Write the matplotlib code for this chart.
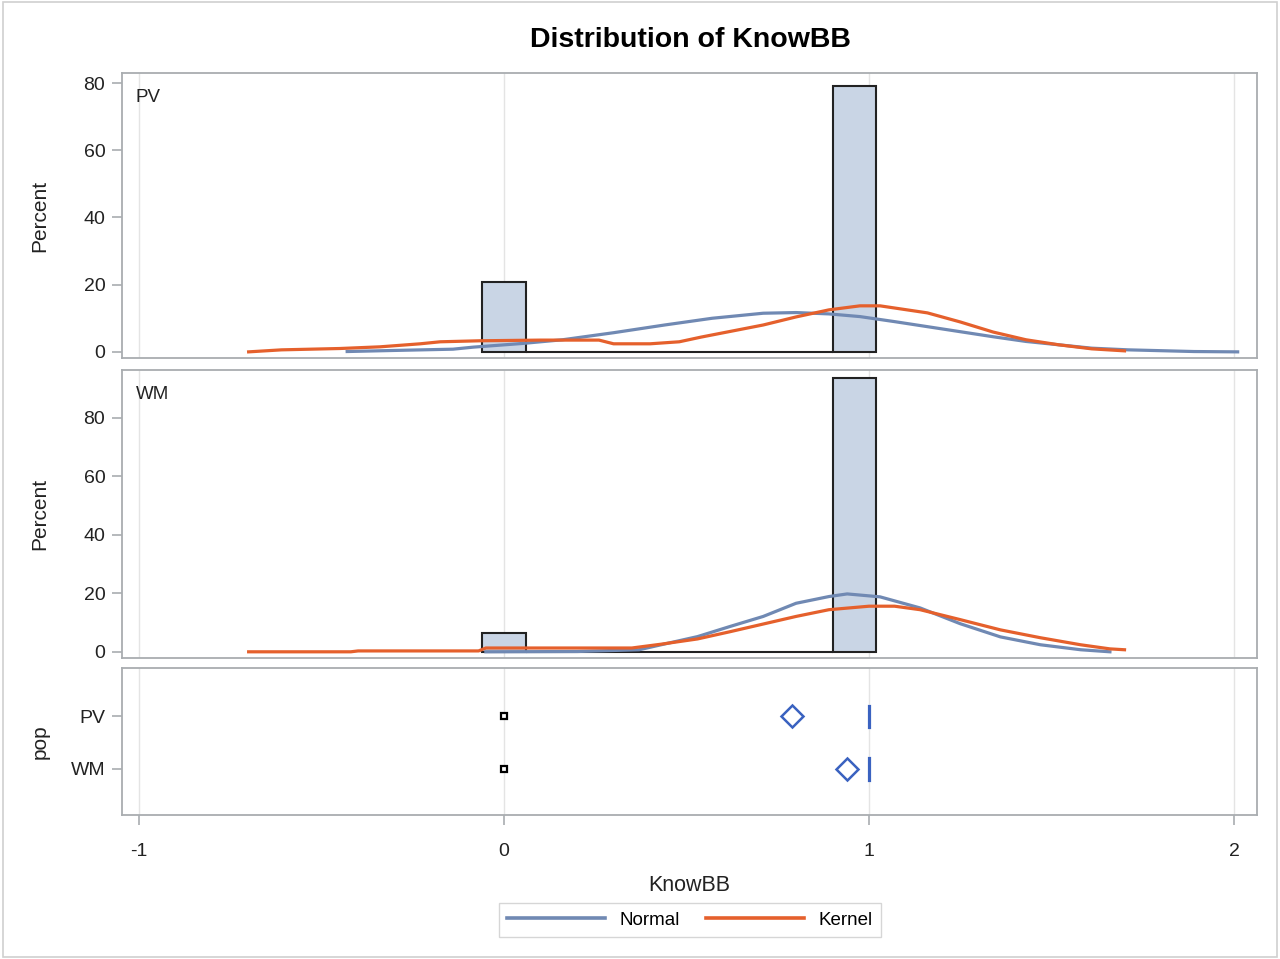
import numpy as np
import matplotlib
matplotlib.use("Agg")
import matplotlib.pyplot as plt
from matplotlib.patches import Rectangle

plt.rcParams['font.family'] = ['Liberation Sans', 'DejaVu Sans']
plt.rcParams['axes.unicode_minus'] = False

# histogram bins (midpoints) and percents per group
bin_mid = [0.0, 0.12, 0.24, 0.36, 0.48, 0.60, 0.72, 0.84, 0.96]
pv_pct = [20.9, 0, 0, 0, 0, 0, 0, 0, 79.1]
wm_pct = [6.3, 0, 0, 0, 0, 0, 0, 0, 93.7]

# fitted normal curves
pv_norm_x = [-0.43, -0.31, -0.14, -0.085, 0.05, 0.16, 0.30, 0.44, 0.57, 0.71, 0.80,
             0.89, 0.975, 1.07, 1.16, 1.25, 1.34, 1.43, 1.52, 1.61, 1.71, 1.89, 2.01]
pv_norm_y = [0.1, 0.4, 0.8, 1.4, 2.5, 3.6, 5.7, 8.0, 10.0, 11.5, 11.7,
             11.3, 10.5, 9.0, 7.5, 6.0, 4.5, 3.1, 2.1, 1.1, 0.6, 0.1, 0.0]
wm_norm_x = [-0.05, 0.20, 0.37, 0.43, 0.53, 0.62, 0.71, 0.80, 0.89, 0.94, 1.03,
             1.14, 1.25, 1.36, 1.47, 1.58, 1.66]
wm_norm_y = [0.0, 0.1, 0.7, 2.4, 5.2, 8.7, 12.1, 16.6, 18.9, 19.8, 18.8,
             15.0, 9.6, 5.1, 2.4, 0.7, 0.0]

# kernel density curves
pv_kern_x = [-0.70, -0.61, -0.45, -0.34, -0.23, -0.175, -0.066, 0.10, 0.26, 0.30, 0.40,
             0.48, 0.54, 0.71, 0.80, 0.89, 0.975, 1.03, 1.16, 1.25, 1.34, 1.43, 1.52,
             1.61, 1.70]
pv_kern_y = [0.0, 0.6, 1.0, 1.5, 2.4, 3.0, 3.3, 3.5, 3.5, 2.4, 2.4,
             3.0, 4.4, 8.0, 10.4, 12.5, 13.7, 13.7, 11.6, 8.9, 5.9, 3.6, 2.1,
             0.9, 0.3]
wm_kern_x = [-0.70, -0.42, -0.40, -0.07, -0.05, 0.35, 0.43, 0.53, 0.62, 0.71, 0.80,
             0.89, 1.0, 1.07, 1.14, 1.25, 1.36, 1.47, 1.58, 1.66, 1.70]
wm_kern_y = [0.0, 0.0, 0.3, 0.3, 1.3, 1.3, 2.6, 4.4, 6.9, 9.5, 12.1,
             14.4, 15.6, 15.6, 14.4, 11.0, 7.5, 4.8, 2.4, 1.0, 0.7]

# box plot summary by population
pops = ['PV', 'WM']
pop_mean = [0.79, 0.94]
pop_q1 = [1, 1]
pop_q3 = [1, 1]
pop_outlier = [0, 0]

bar_fill = '#C9D5E5'
blue_fit = '#7089B3'
orange_fit = '#E5602C'
frame = '#A9ADB0'
grid_c = '#E4E4E4'
text_c = '#222222'

W, H = 1280, 959
fig = plt.figure(figsize=(12.8, 9.59), dpi=100)
fig.patches.append(Rectangle((0.002, 0.002), 0.996, 0.996, transform=fig.transFigure,
                             fill=False, edgecolor='#D0D0D0', lw=1.2))


def panel(top, bottom):
    left, right = 122, 1257
    return fig.add_axes([left / W, 1 - bottom / H, (right - left) / W, (bottom - top) / H])


def style(ax):
    for s in ax.spines.values():
        s.set_color(frame)
        s.set_linewidth(1.3)
    ax.set_xlim(-1.047, 2.063)
    ax.set_xticks([-1, 0, 1, 2])
    ax.grid(axis='x', color=grid_c, lw=1.0)
    ax.set_axisbelow(True)
    ax.tick_params(colors=frame, labelcolor=text_c, labelsize=14, length=7, width=1.2)
    ax.tick_params(axis='y', pad=5)
    ax.yaxis.set_label_coords(-0.064, 0.5)


ax1 = panel(73, 358)
ax2 = panel(370, 658)
ax3 = panel(668, 815)

for ax, pct, nx, ny, kx, ky, ymax, tag in [
        (ax1, pv_pct, pv_norm_x, pv_norm_y, pv_kern_x, pv_kern_y, 83.0, 'PV'),
        (ax2, wm_pct, wm_norm_x, wm_norm_y, wm_kern_x, wm_kern_y, 96.4, 'WM')]:
    style(ax)
    ax.bar(bin_mid, pct, width=0.12, color=bar_fill, edgecolor='#222222', linewidth=1.5, zorder=2)
    ax.plot(nx, ny, color=blue_fit, lw=2.3, zorder=3)
    ax.plot(kx, ky, color=orange_fit, lw=2.3, zorder=4)
    ax.set_ylim(-ymax * 0.022, ymax)
    ax.set_yticks([0, 20, 40, 60, 80])
    ax.tick_params(axis='x', bottom=False, labelbottom=False)
    ax.set_ylabel('Percent', fontsize=15, color=text_c)
    ax.text(0.012, 0.945, tag, transform=ax.transAxes, ha='left', va='top', fontsize=13.5, color=text_c)

# box plot panel
style(ax3)
ypos = np.arange(len(pops))
for i in ypos:
    ax3.plot([pop_q1[i], pop_q3[i]], [i - 0.2, i + 0.2], color='#3A62C0', lw=2.3, zorder=3)
ax3.plot(pop_mean, ypos, linestyle='none', marker='D', markersize=11, markerfacecolor='white',
         markeredgecolor='#3A62C0', markeredgewidth=1.8, zorder=4)
ax3.plot(pop_outlier, ypos, linestyle='none', marker='s', markersize=5, markerfacecolor='white',
         markeredgecolor='black', markeredgewidth=1.6, zorder=4)
ax3.set_yticks(ypos)
ax3.set_yticklabels(pops)
ax3.set_ylim(1.87, -0.91)
ax3.tick_params(axis='x', pad=13)
ax3.set_ylabel('pop', fontsize=15, color=text_c)
ax3.set_xlabel('KnowBB', fontsize=15.5, color=text_c)
ax3.xaxis.set_label_coords(0.5, -0.41)

fig.text(690 / W, 1 - 40 / H, 'Distribution of KnowBB', ha='center', va='center',
         fontsize=20.5, fontweight='bold', color='black')

handles = [plt.Line2D([], [], color=blue_fit, lw=2.6), plt.Line2D([], [], color=orange_fit, lw=2.6)]
fig.legend(handles, ['Normal', 'Kernel'], loc='center', bbox_to_anchor=(690 / W, 1 - 920 / H),
           ncol=2, frameon=True, fancybox=False, edgecolor='#CCCCCC', fontsize=13.5,
           handlelength=5.2, columnspacing=1.4, handletextpad=0.8, borderpad=0.45,
           prop={'size': 13.5, 'weight': 'medium'})

fig.savefig('out.png', dpi=100)
